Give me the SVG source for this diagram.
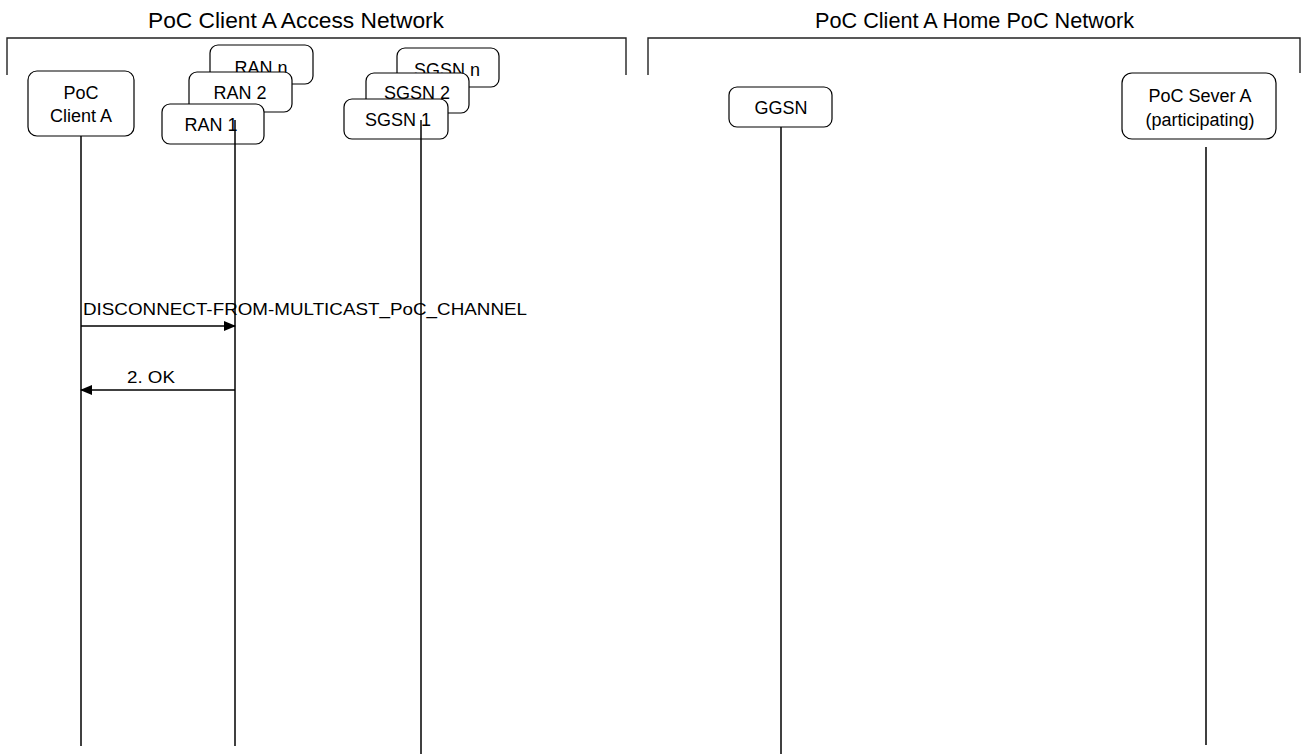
<svg xmlns="http://www.w3.org/2000/svg" width="1305" height="754" viewBox="0 0 1305 754">
<style>
text{font-family:"Liberation Sans",Arial,sans-serif;fill:#000}
.box{fill:#fff;stroke:#000;stroke-width:1.2}
.bt{font-size:18px;text-anchor:middle}
.title{font-size:22px}
.msg{font-size:17px}
.life{stroke:#000;stroke-width:1.5;fill:none}
.brk{stroke:#222;stroke-width:1.4;fill:none}
.arr{stroke:#000;stroke-width:1.5;fill:none}
</style>
<defs>
<marker id="ah" markerWidth="12" markerHeight="10" refX="11" refY="5" orient="auto" markerUnits="userSpaceOnUse">
<path d="M0,0 L12,5 L0,10 Z" fill="#000"/>
</marker>
</defs>
<g id="access-network">
<path class="brk" d="M7,75 V38 H626 V75"/>
<text class="title" x="148" y="28" textLength="296" lengthAdjust="spacingAndGlyphs">PoC Client A Access Network</text>
</g>
<g id="home-network">
<path class="brk" d="M648,75 V38 H1300 V73"/>
<text class="title" x="815" y="28" textLength="319" lengthAdjust="spacingAndGlyphs">PoC Client A Home PoC Network</text>
</g>
<g id="poc-client-a">
<rect class="box" x="28" y="71" width="106" height="65" rx="9"/>
<text class="bt" x="81" y="99">PoC</text>
<text class="bt" x="81" y="122">Client A</text>
</g>
<g id="ran-n">
<rect class="box" x="210" y="45" width="103" height="39" rx="8"/>
<text class="bt" x="261" y="74">RAN n</text>
</g>
<g id="ran-2">
<rect class="box" x="189" y="72" width="103" height="40" rx="8"/>
<text class="bt" x="240" y="99">RAN 2</text>
</g>
<g id="ran-1">
<rect class="box" x="162" y="104" width="102" height="40" rx="8"/>
<text class="bt" x="211" y="131">RAN 1</text>
</g>
<g id="sgsn-n">
<rect class="box" x="397" y="48" width="102" height="39" rx="8"/>
<text class="bt" x="447" y="76">SGSN n</text>
</g>
<g id="sgsn-2">
<rect class="box" x="366" y="73" width="103" height="40" rx="8"/>
<text class="bt" x="417" y="99">SGSN 2</text>
</g>
<g id="sgsn-1">
<rect class="box" x="344" y="99" width="104" height="40" rx="8"/>
<text class="bt" x="398" y="126">SGSN 1</text>
</g>
<g id="ggsn">
<rect class="box" x="729" y="87" width="103" height="40" rx="8"/>
<text class="bt" x="781" y="114">GGSN</text>
</g>
<g id="poc-server-a">
<rect class="box" x="1122" y="73" width="154" height="66" rx="10"/>
<text class="bt" x="1200" y="102">PoC Sever A</text>
<text class="bt" x="1200" y="126">(participating)</text>
</g>
<g id="lifelines">
<line class="life" x1="81" y1="136" x2="81" y2="746"/>
<line class="life" x1="235" y1="120" x2="235" y2="746"/>
<line class="life" x1="421" y1="120" x2="421" y2="754"/>
<line class="life" x1="781" y1="127" x2="781" y2="754"/>
<line class="life" x1="1206" y1="147" x2="1206" y2="745"/>
</g>
<g id="connectors">
<line class="arr" x1="81" y1="326" x2="235" y2="326" marker-end="url(#ah)"/>
<text class="msg" x="83" y="315" textLength="444" lengthAdjust="spacingAndGlyphs">DISCONNECT-FROM-MULTICAST_PoC_CHANNEL</text>
<line class="arr" x1="235" y1="390" x2="81" y2="390" marker-end="url(#ah)"/>
<text class="msg" x="127" y="383" textLength="48" lengthAdjust="spacingAndGlyphs">2. OK</text>
</g>
</svg>
